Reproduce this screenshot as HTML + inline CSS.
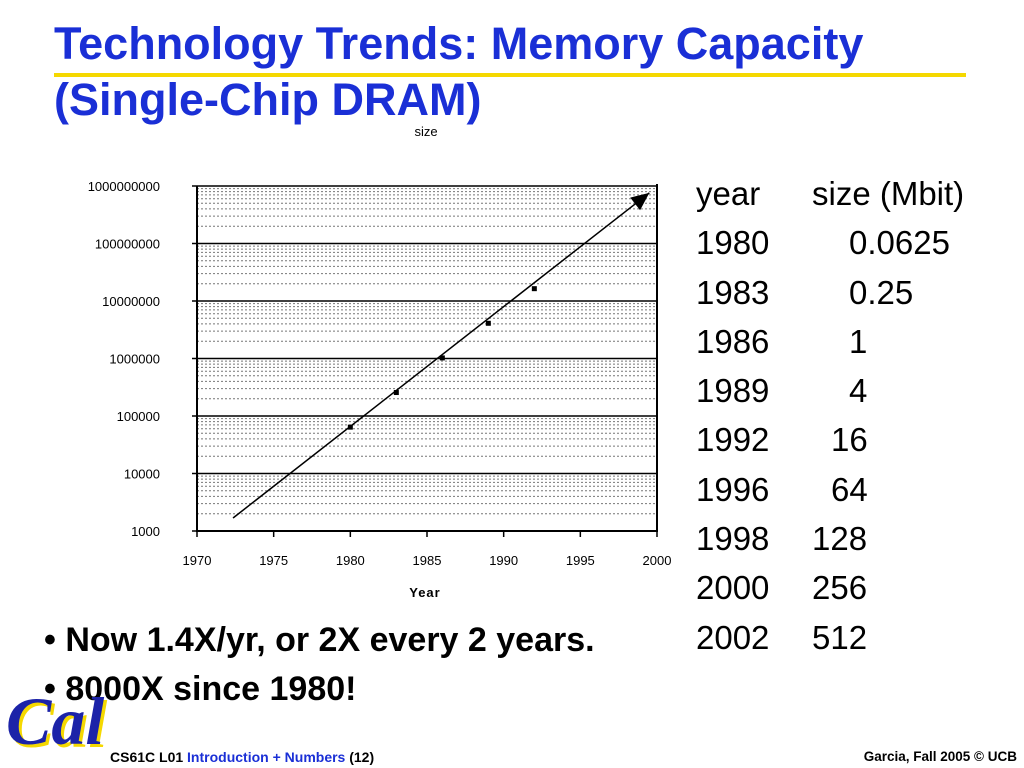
<!DOCTYPE html>
<html><head><meta charset="utf-8"><style>
body{margin:0;width:1024px;height:768px;background:#fff;position:relative;overflow:hidden;font-family:"Liberation Sans",sans-serif}
.t{position:absolute;white-space:nowrap}
</style></head><body>
<div class="t" style="left:54px;top:16px;font-size:45px;font-weight:bold;color:#1a2fd6;line-height:56px">Technology Trends: Memory Capacity<br>(Single-Chip DRAM)</div>
<div style="position:absolute;left:54px;top:73px;width:912px;height:4px;background:#f5d800"></div>
<svg id="chart" width="1024" height="768" style="position:absolute;left:0;top:0"></svg>
<div class="t" style="left:696px;top:169px;font-size:33px;line-height:49.3px;color:#000">
<div>year<span style="position:absolute;left:116px">size (Mbit)</span></div>
<div>1980<span style="position:absolute;left:153px">0.0625</span></div>
<div>1983<span style="position:absolute;left:153px">0.25</span></div>
<div>1986<span style="position:absolute;left:153px">1</span></div>
<div>1989<span style="position:absolute;left:153px">4</span></div>
<div>1992<span style="position:absolute;left:135px">16</span></div>
<div>1996<span style="position:absolute;left:135px">64</span></div>
<div>1998<span style="position:absolute;left:116px">128</span></div>
<div>2000<span style="position:absolute;left:116px">256</span></div>
<div>2002<span style="position:absolute;left:116px">512</span></div>
</div>
<div class="t" style="left:44px;top:621px;font-size:34px;font-weight:bold">• Now 1.4X/yr, or 2X every 2 years.</div>
<div class="t" style="left:44px;top:670px;font-size:34px;font-weight:bold">• 8000X since 1980!</div>
<div class="t" style="left:6px;top:682px;font-size:68px;font-weight:bold;font-style:italic;font-family:'Liberation Serif',serif;color:#1c23a8;text-shadow:3px 3px 0 #f5d800">Cal</div>
<div class="t" style="left:110px;top:749px;font-size:14px;font-weight:bold">CS61C L01 <span style="color:#1a2fd6">Introduction + Numbers</span> (12)</div>
<div class="t" style="right:7px;top:749px;font-size:13.5px;font-weight:bold">Garcia, Fall 2005 © UCB</div>
<script>
const years=[1980,1983,1986,1989,1992];
const sizes=[64000,256000,1024000,4096000,16384000];
const trendYears=[1972.35,1999.5];
const trendValues=[1682,7.6e8];
const yTicks=[1000,10000,100000,1000000,10000000,100000000,1000000000];
const yTickLabels=["1000","10000","100000","1000000","10000000","100000000","1000000000"];
const xTicks=[1970,1975,1980,1985,1990,1995,2000];
const L=197,R=657,T=186,B=531;
const xs=y=>L+(y-1970)/30*(R-L);
const ys=v=>B-(Math.log10(v)-3)/6*(B-T);
const svg=document.getElementById('chart');
const NS='http://www.w3.org/2000/svg';
function mk(t,a){const e=document.createElementNS(NS,t);for(const k in a)e.setAttribute(k,a[k]);svg.appendChild(e);return e;}
for(let d=3;d<9;d++){for(let m=2;m<10;m++){const y=ys(m*Math.pow(10,d));
const g=mk('line',{x1:L,x2:R,y1:y,y2:y,stroke:'#777','stroke-width':1,'stroke-dasharray':'2,2'});

}}
yTicks.forEach((v,i)=>{const y=ys(v);
const g=mk('line',{x1:L-5,x2:R,y1:y,y2:y,stroke:'#000','stroke-width':1.5});


const t=mk('text',{x:160,y:y+5,'text-anchor':'end','font-size':13,'font-family':'Liberation Sans'});t.textContent=yTickLabels[i];

});
xTicks.forEach(v=>{const x=xs(v);
mk('line',{x1:x,x2:x,y1:B,y2:B+6,stroke:'#000','stroke-width':1.5});
const t=mk('text',{x:x,y:B+34,'text-anchor':'middle','font-size':13,'font-family':'Liberation Sans'});t.textContent=v;

});
const ax=mk('path',{d:`M${L},${T} V${B} H${R} V${T-2}`,fill:'none',stroke:'#000','stroke-width':2});


let t=mk('text',{x:425,y:597,'text-anchor':'middle','font-size':13,'font-weight':'bold','font-family':'Liberation Sans','letter-spacing':1});t.textContent='Year';


t=mk('text',{x:426,y:136,'text-anchor':'middle','font-size':13,'font-family':'Liberation Sans'});t.textContent='size';


const x1=xs(trendYears[0]),y1=ys(trendValues[0]),x2=xs(trendYears[1]),y2=ys(trendValues[1]);
const tl=mk('line',{x1:x1,y1:y1,x2:x2,y2:y2,stroke:'#000','stroke-width':1.5});


const ang=Math.atan2(y2-y1,x2-x1),al=18,aw=8;
const bx=x2-al*Math.cos(ang),by=y2-al*Math.sin(ang);
const ah=mk('polygon',{points:`${x2},${y2} ${bx+aw*Math.sin(ang)},${by-aw*Math.cos(ang)} ${bx-aw*Math.sin(ang)},${by+aw*Math.cos(ang)}`,fill:'#000'});


years.forEach((yr,i)=>{const p=mk('rect',{x:xs(yr)-2.5,y:ys(sizes[i])-2.5,width:5,height:5,fill:'#000'});

});
</script>
</body></html>
